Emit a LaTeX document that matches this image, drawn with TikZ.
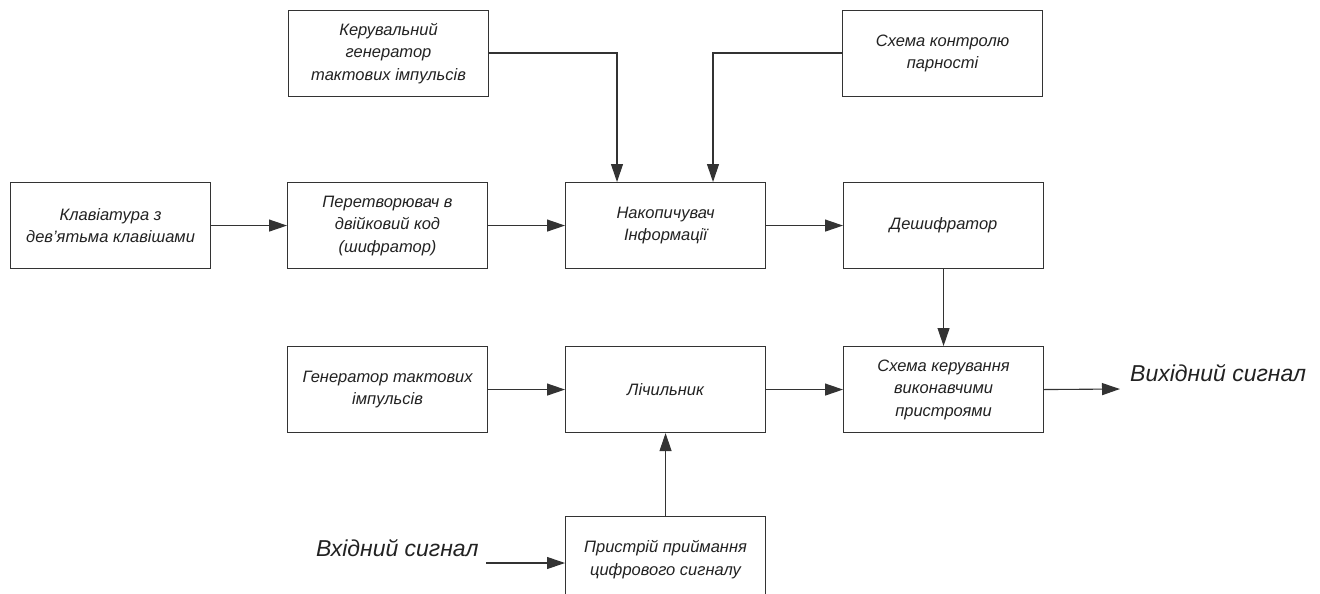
\documentclass[tikz,border=0pt]{standalone}
\usepackage{fontspec}
\setmainfont{Liberation Sans}
\usetikzlibrary{arrows.meta}
\definecolor{ln}{HTML}{333333}
\definecolor{tx}{HTML}{222222}
\tikzset{
  blk/.style={draw=ln, line width=1.1pt, minimum width=200pt, minimum height=86pt, inner sep=0pt, align=center, text=tx, font=\fontsize{16.5}{22.5}\selectfont\itshape, anchor=north west},
  arr/.style={draw=ln, line width=1.1pt, -{Triangle[length=18pt,width=12pt]}},
  lbl/.style={text=tx, font=\fontsize{23}{27}\selectfont\itshape, inner sep=0pt}
}
\begin{document}
\begin{tikzpicture}[x=1pt,y=-1pt]
\useasboundingbox[fill=white] (0,0) rectangle (1320,594);
\node[blk] (ker) at (288,10) {Керувальний\\генератор\\тактових імпульсів};
\node[blk] (par) at (842,10) {Схема контролю\\парності};
\node[blk] (kla) at (10,182) {Клавіатура з\\дев'ятьма клавішами};
\node[blk] (per) at (287,182) {Перетворювач в\\двійковий код\\(шифратор)};
\node[blk] (nak) at (565,182) {Накопичувач\\Інформації};
\node[blk] (des) at (843,182) {Дешифратор};
\node[blk] (gen) at (287,346) {Генератор тактових\\імпульсів};
\node[blk] (lic) at (565,346) {Лічильник};
\node[blk] (skv) at (843,346) {Схема керування\\виконавчими\\пристроями};
\node[blk] (pry) at (565,516) {Пристрій приймання\\цифрового сигналу};
\node[lbl, anchor=west] (vyh) at (1130,373) {Вихідний сигнал};
\node[lbl, anchor=west] (vh) at (316,548) {Вхідний сигнал};
\coordinate (k1) at (617,53);
\coordinate (p1) at (713,53);
\coordinate (out) at (1120,389);
\coordinate (in) at (486,563);
\draw[arr] (kla.east) -- (per.west);
\draw[arr] (per.east) -- (nak.west);
\draw[arr] (nak.east) -- (des.west);
\draw[arr] (ker.east |- k1) -- (k1) -- (k1 |- nak.north);
\draw[arr] (par.west |- p1) -- (p1) -- (p1 |- nak.north);
\draw[arr] (des.south) -- (skv.north);
\draw[arr] (gen.east) -- (lic.west);
\draw[arr] (lic.east) -- (skv.west);
\draw[arr] (skv.east) -- (out);
\draw[arr] (pry.north) -- (lic.south);
\draw[arr] (in) -- (in -| pry.west);
\end{tikzpicture}
\end{document}
